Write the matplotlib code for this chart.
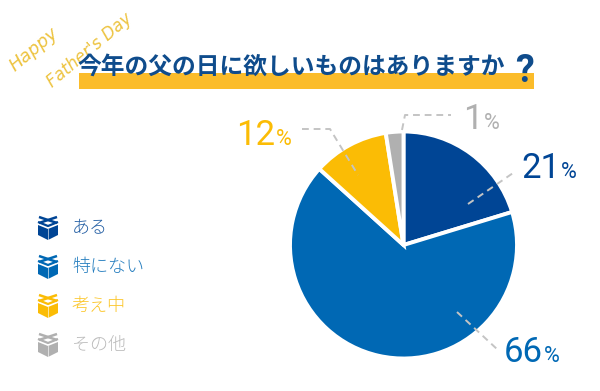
import matplotlib
matplotlib.use("Agg")
import matplotlib.pyplot as plt
from matplotlib.patches import Polygon, Rectangle

plt.rcParams['font.family'] = ['Noto Sans CJK JP', 'DejaVu Sans']

categories = ["ある", "特にない", "考え中", "その他"]
shares = [20.3, 66.4, 10.8, 2.5]      # wedge sizes as measured in the picture
labels = ["21", "66", "12", "1"]      # percentages as printed
colors = ["#004595", "#0068B4", "#FBBC05", "#B0B0B0"]
title = "今年の父の日に欲しいものはありますか"

W, H = 600, 391
fig = plt.figure(figsize=(W/100, H/100), dpi=100)

# Pie
cx, cy, r = 403.5, 245, 113.5
axp = fig.add_axes([(cx-r)/W, 1-(cy+r)/H, 2*r/W, 2*r/H])
axp.pie(shares, colors=colors, startangle=90, counterclock=False, radius=1,
        wedgeprops=dict(edgecolor="white", linewidth=2.8))
axp.set_xlim(-1, 1); axp.set_ylim(-1, 1); axp.set_aspect("equal")
axp.axis("off")

# Overlay in pixel coordinates
ax = fig.add_axes([0, 0, 1, 1], zorder=5)
ax.set_xlim(0, W); ax.set_ylim(H, 0); ax.axis("off")

# Title band and title
ax.add_patch(Rectangle((79, 73), 455, 15.5, color="#FBBC2A", lw=0, zorder=1))
ax.text(77, 66.5, title, fontsize=17.1, fontweight="bold", color="#0F4C8C",
        va="center", ha="left", zorder=2)
ax.text(525, 81.5, "?", fontsize=27, fontweight="bold", color="#0F4C8C",
        family="Roboto", va="baseline", ha="center", zorder=2)

# Decorative script
ax.text(34, 50, "Happy", fontsize=13, style="italic", color="#EDC33F", family="DejaVu Sans",
        rotation=40, ha="center", va="center", fontweight="extra bold" if False else "normal")
ax.text(90, 50, "Father's Day", fontsize=12, style="italic", color="#EDC33F", family="DejaVu Sans",
        rotation=40, ha="center", va="center", zorder=0)

# Legend: gift-box icons and labels
ys = [228, 267, 306, 345]
for y, c, name in zip(ys, colors, categories):
    x0 = 48
    # box
    ax.add_patch(Polygon([(x0-10, y-3), (x0, y+1), (x0+10, y-3), (x0+10, y+7), (x0, y+12), (x0-10, y+7)],
                         closed=True, color=c, lw=0))
    ax.plot([x0, x0], [y+1, y+11], color="white", lw=0.7, alpha=.6)
    # lid band (white gap) and bow
    ax.plot([x0-10, x0, x0+10], [y-6, y-2, y-6], color=c, lw=1.6, solid_capstyle="butt")
    ax.plot([x0-9, x0+9], [y-11, y-5], color=c, lw=1.8, solid_capstyle="butt")
    ax.plot([x0-9, x0+9], [y-5, y-11], color=c, lw=1.8, solid_capstyle="butt")
    ax.text(72, y, name, fontsize=13, color=c, va="center", ha="left",
            fontweight="light", alpha=.85)

# Leader lines
lead = "#C4C4C4"
dash = dict(color=lead, lw=1.4, ls=(0, (3.5, 2.5)), zorder=3)
ax.plot([468, 516], [204, 171], **dash)
ax.plot([457, 498], [312, 350], **dash)
ax.plot([302, 330, 358], [129, 129, 175], **dash)
ax.plot([402, 405, 451], [130, 115, 115], **dash)

# Value labels
def value(x, y, num, c, size=25, psize=15.5):
    t = ax.text(x, y, num, fontsize=size, color=c, fontweight="normal", family="Roboto",
                va="baseline", ha="left")
    bb = t.get_window_extent(fig.canvas.get_renderer())
    ax.text(bb.x1 + 1, y, "%", fontsize=psize, color=c, family="Roboto", va="baseline", ha="left")

value(236, 145, labels[2], colors[2])
value(463, 129, labels[3], colors[3])
value(521, 178, labels[0], colors[0])
value(504, 362, labels[1], colors[1])

fig.savefig("out.png", dpi=100)
